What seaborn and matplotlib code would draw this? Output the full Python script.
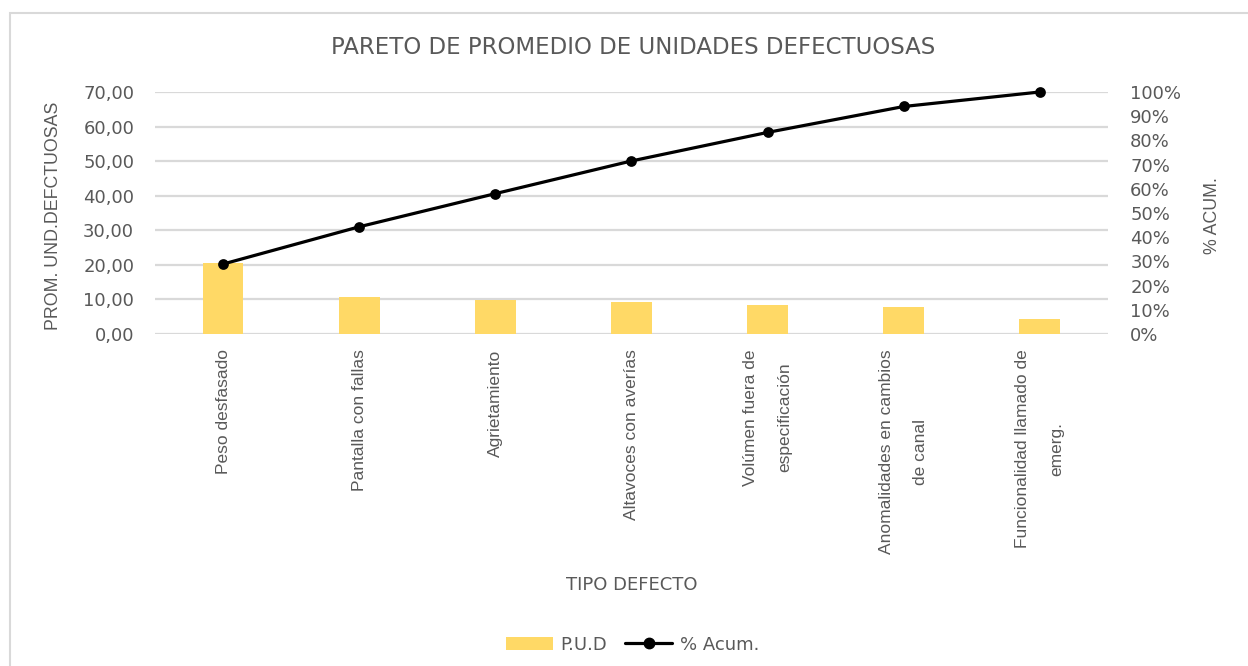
import numpy as np
import pandas as pd
import matplotlib.pyplot as plt
import seaborn as sns
from matplotlib.patches import Patch, Rectangle
from matplotlib.lines import Line2D

defectos = ['Peso desfasado', 'Pantalla con fallas', 'Agrietamiento', 'Altavoces con averías',
            'Volúmen fuera de\nespecificación', 'Anomalidades en cambios\nde canal',
            'Funcionalidad llamado de\nemerg.']
pud = [20.6, 10.8, 9.7, 9.3, 8.3, 7.8, 4.4]
acum = [0.289, 0.443, 0.580, 0.715, 0.833, 0.940, 1.000]

left_ticks = [0, 10, 20, 30, 40, 50, 60, 70]
right_ticks = [0, 0.1, 0.2, 0.3, 0.4, 0.5, 0.6, 0.7, 0.8, 0.9, 1.0]

df = pd.DataFrame({'defecto': defectos, 'pud': pud, 'acum': acum})

sns.set_theme(style='white')
plt.rcParams['font.family'] = ['Liberation Sans', 'DejaVu Sans']
gray = '#595959'
wide = ['DejaVu Sans']

fig = plt.figure(figsize=(12.48, 6.66), dpi=100)
ax = fig.add_axes([0.1242, 0.4985, 0.7636, 0.3634])
ax2 = ax.twinx()

sns.barplot(data=df, x='defecto', y='pud', ax=ax, color='#FFD966', width=0.3,
            saturation=1, edgecolor='none')
sns.pointplot(data=df, x='defecto', y='acum', ax=ax2, color='black', markers='o',
              markersize=6, linewidth=2.3)
for ln in ax2.lines:
    ln.set_clip_on(False)

ax.set_xlim(-0.5, len(defectos) - 0.5)
ax.set_ylim(0, 70)
ax2.set_ylim(0, 1)

ax.set_yticks(left_ticks)
ax.set_yticklabels([f'{v:.2f}'.replace('.', ',') for v in left_ticks], family=wide)
ax2.set_yticks(right_ticks)
ax2.set_yticklabels([f'{v:.0%}' for v in right_ticks], family=wide)

ax.set_xticks(range(len(defectos)))
ax.set_xticklabels(defectos, rotation=90, ha='center', va='top', multialignment='center',
                   linespacing=2.6)

ax.yaxis.grid(True, color='#D9D9D9', lw=1.6)
ax.set_axisbelow(True)
for a in (ax, ax2):
    for s in a.spines.values():
        s.set_visible(False)
    a.tick_params(axis='both', length=0, colors=gray)
ax.tick_params(axis='y', pad=15, labelsize=13)
ax2.tick_params(axis='y', pad=16, labelsize=13)
ax.tick_params(axis='x', pad=11, labelsize=12.5)

ax.set_xlabel('TIPO DEFECTO', color=gray, fontsize=13, family=wide)
ax.xaxis.set_label_coords(0.5, -1.0)
ax.set_ylabel('PROM. UND.DEFCTUOSAS', color=gray, fontsize=12.8)
ax.yaxis.set_label_coords(-0.098, 0.49)
ax2.set_ylabel('% ACUM.', color=gray, fontsize=12.8, rotation=90, va='center', ha='center')
ax2.yaxis.set_label_coords(1.110, 0.49)

fig.suptitle('PARETO DE PROMEDIO DE UNIDADES DEFECTUOSAS', color=gray, fontsize=16.5,
             family=wide, x=0.507, y=0.929, va='center')

handles = [Patch(facecolor='#FFD966', edgecolor='none'),
           Line2D([0], [0], color='black', lw=2.3, marker='o', markersize=7.5)]
fig.legend(handles, ['P.U.D', '% Acum.'], loc='center', bbox_to_anchor=(0.507, 0.032),
           ncol=2, frameon=False, prop={'family': wide, 'size': 13}, labelcolor=gray,
           handlelength=2.6, columnspacing=1.0, handletextpad=0.4)

fig.add_artist(Rectangle((10 / 1248, -0.1), 1.2, 1.1 - 13 / 666, transform=fig.transFigure,
                         fill=False, edgecolor='#D9D9D9', lw=1.5))

fig.savefig('out.png', dpi=100, facecolor='white')
print('saved out.png')
